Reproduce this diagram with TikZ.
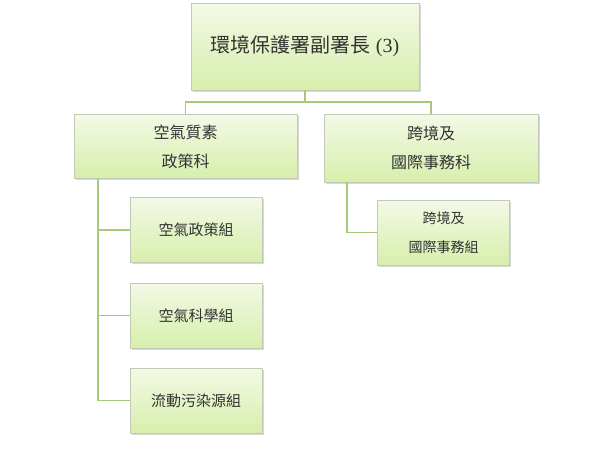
\documentclass[tikz,border=0pt]{standalone}
\usepackage{fontspec}
\setmainfont{Liberation Serif}
\newfontfamily\cjk{Noto Sans CJK TC}
\usetikzlibrary{shadows}

\definecolor{boxtop}{HTML}{F3F9E6}
\definecolor{boxbot}{HTML}{D7EFAC}
\definecolor{boxline}{HTML}{C2CAB7}
\definecolor{linkline}{HTML}{A9C97A}
\definecolor{txt}{HTML}{333333}

\begin{document}
\begin{tikzpicture}[
    x=1pt, y=-1pt,
    unit/.style={draw=boxline, top color=boxtop, bottom color=boxbot,
        inner sep=0pt, align=center, text=txt,
        drop shadow={shadow xshift=1.5pt, shadow yshift=-1.5pt, fill=black!30, opacity=0.5}},
    head/.style={unit, minimum width=228pt, minimum height=87pt, font=\fontsize{20}{24}\selectfont},
    sect/.style={unit, minimum height=64pt, font=\cjk\fontsize{16}{29}\selectfont},
    grp/.style={unit, minimum width=132pt, minimum height=65pt, font=\cjk\fontsize{15}{29}\selectfont},
    link/.style={draw=linkline, line width=1.6pt},
]
\useasboundingbox (0,0) rectangle (611,459);

% Head
\node[head] (dep) at (305,46.5) {{\cjk 環境保護署副署長} (3)};

% Sections
\node[sect, minimum width=223pt] (secair) at (185.5,146.5) {空氣質素\\政策科};
\node[sect, minimum width=214pt, minimum height=68pt] (secint) at (431,148) {跨境及\\國際事務科};

% Groups
\node[grp] (grppol) at (196,230) {空氣政策組};
\node[grp] (grpsci) at (196,315.5) {空氣科學組};
\node[grp] (grpmob) at (196,400.5) {流動污染源組};
\node[grp, font=\cjk\fontsize{14}{29}\selectfont] (grpint) at (443.5,232.5) {跨境及\\國際事務組};

% Links
\coordinate (split) at (305,102);
\draw[link] (dep.south) -- (split);
\draw[link] (secair.north) |- (split) -| (secint.north);

\coordinate (airbus) at (98,0);
\draw[link] (secair.south -| airbus) |- (grpmob.west);
\draw[link] (grppol.west) -- (grppol.west -| airbus);
\draw[link] (grpsci.west) -- (grpsci.west -| airbus);

\coordinate (intbus) at (347,0);
\draw[link] (secint.south -| intbus) |- (grpint.west);

\end{tikzpicture}
\end{document}
